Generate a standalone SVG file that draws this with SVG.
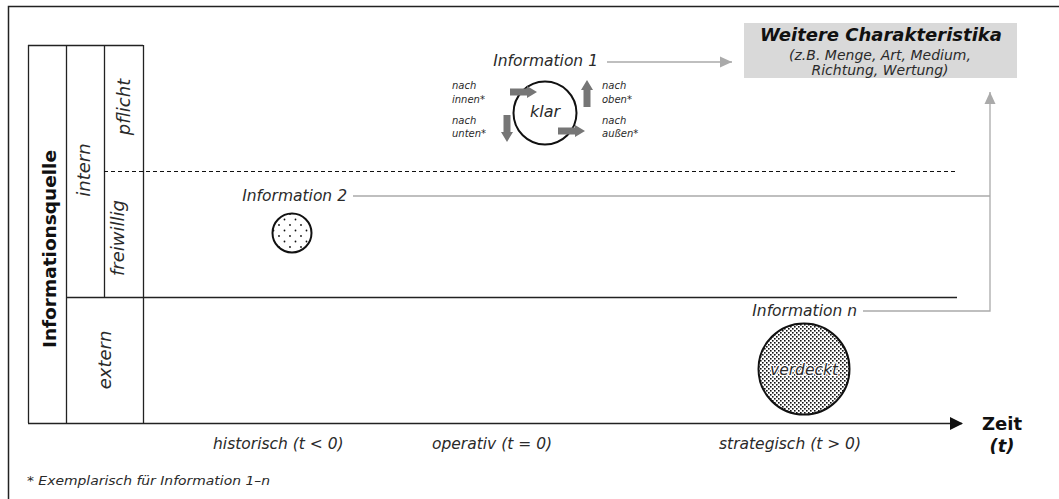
<svg xmlns="http://www.w3.org/2000/svg" width="1059" height="499" viewBox="0 0 1059 499">
<style>
text{font-family:"DejaVu Sans","Verdana",sans-serif;fill:#2a2a2a}
.it{font-style:italic}
.b{font-weight:bold;fill:#111}
.lab{font-size:15.5px;font-style:italic}
.col{font-size:18px;font-style:italic}
.sm{font-size:10px;font-style:italic}
.ln{stroke:#222;stroke-width:1.3;fill:none}
.gl{stroke:#aaaaaa;stroke-width:1.3;fill:none}
.blk{fill:#767676}
.halo{stroke:#fff;stroke-width:2.5;paint-order:stroke;stroke-linejoin:round}
</style>
<defs>
<pattern id="sparse" width="11" height="11" patternUnits="userSpaceOnUse" x="2" y="3">
<circle cx="2" cy="2" r="0.9" fill="#111"/><circle cx="7.5" cy="7.5" r="0.9" fill="#111"/>
</pattern>
<pattern id="dense" width="4" height="4" patternUnits="userSpaceOnUse">
<rect x="0" y="0" width="1.6" height="1.6" fill="#111"/><rect x="2" y="2" width="1.6" height="1.6" fill="#111"/>
</pattern>
<path id="barrow" d="M0,-3.5 H17 V-6 L27,0 L17,6 V3.5 H0 Z"/>
<marker id="ga" markerUnits="userSpaceOnUse" markerWidth="14" markerHeight="14" refX="12" refY="6" orient="auto">
<path d="M0,0.5 L12,6 L0,11.5 Z" fill="#aaaaaa"/>
</marker>
<marker id="ka" markerUnits="userSpaceOnUse" markerWidth="14" markerHeight="14" refX="12" refY="6.5" orient="auto">
<path d="M0,0 L13,6.5 L0,13 Z" fill="#111"/>
</marker>
</defs>
<rect x="8.5" y="6.5" width="1100" height="600" fill="#fff" stroke="#222" stroke-width="1.5"/>

<g id="table">
<path class="ln" d="M28,45.5 H143 M28.5,45 V423 M66.5,45 V423 M104.5,45 V297 M143.5,45 V423 M66,297.5 H957"/>
<path d="M104,171.5 H957" stroke="#111" stroke-width="1.2" stroke-dasharray="4,3"/>
<text class="b" font-size="18" text-anchor="middle" transform="translate(56,249) rotate(-90)" textLength="198" lengthAdjust="spacingAndGlyphs">Informationsquelle</text>
<text class="col" text-anchor="middle" transform="translate(89.5,170) rotate(-90)">intern</text>
<text class="col" text-anchor="middle" transform="translate(130,107) rotate(-90)">pflicht</text>
<text class="col" text-anchor="middle" transform="translate(124,238) rotate(-90)">freiwillig</text>
<text class="col" text-anchor="middle" transform="translate(111,360) rotate(-90)">extern</text>
</g>

<g id="connectors">
<path class="ln" d="M28,423.5 H962" marker-end="url(#ka)"/>
<path class="gl" d="M607,62 H732" marker-end="url(#ga)"/>
<path class="gl" d="M353,196 H990"/>
<path class="gl" d="M863,311 H990 V92" marker-end="url(#ga)"/>
</g>

<g id="axis-labels">
<text class="b" font-size="18" text-anchor="middle" x="1002" y="430">Zeit</text>
<text class="b it" font-size="18" text-anchor="middle" x="1002" y="452">(t)</text>
<text class="lab" x="213" y="449">historisch (t &lt; 0)</text>
<text class="lab" x="432" y="449">operativ (t = 0)</text>
<text class="lab" x="719" y="449">strategisch (t &gt; 0)</text>
</g>

<g id="characteristics">
<rect x="744" y="23" width="273" height="55" fill="#d9d9d9"/>
<text class="b it" font-size="18" text-anchor="middle" x="881" y="41">Weitere Charakteristika</text>
<text class="it" font-size="14" text-anchor="middle" x="880" y="60">(z.B. Menge, Art, Medium,</text>
<text class="it" font-size="14" text-anchor="middle" x="880" y="75">Richtung, Wertung)</text>
</g>

<g id="info1">
<text class="lab" text-anchor="end" x="598" y="66">Information 1</text>
<circle cx="545" cy="113" r="31.5" fill="#fff" stroke="#111" stroke-width="2"/>
<text class="it" font-size="16" text-anchor="middle" x="545" y="117">klar</text>
<use href="#barrow" class="blk" transform="translate(510,92)"/>
<use href="#barrow" class="blk" transform="translate(558,131)"/>
<use href="#barrow" class="blk" transform="translate(507,115) rotate(90)"/>
<use href="#barrow" class="blk" transform="translate(587,107) rotate(-90)"/>
<text class="sm" x="452" y="89">nach</text>
<text class="sm" x="452" y="103">innen*</text>
<text class="sm" x="452" y="124">nach</text>
<text class="sm" x="452" y="137">unten*</text>
<text class="sm" x="602" y="89">nach</text>
<text class="sm" x="602" y="103">oben*</text>
<text class="sm" x="602" y="124">nach</text>
<text class="sm" x="602" y="137">außen*</text>
</g>

<g id="info2">
<text class="lab" text-anchor="end" x="347" y="201">Information 2</text>
<circle cx="292" cy="233" r="19.5" fill="url(#sparse)" stroke="#111" stroke-width="2"/>
</g>

<g id="infon">
<text class="lab" text-anchor="end" x="857" y="316">Information n</text>
<circle cx="804" cy="369" r="45.5" fill="url(#dense)" stroke="#111" stroke-width="2"/>
<text class="it halo" font-size="15.5" text-anchor="middle" x="804" y="375">verdeckt</text>
</g>

<g id="footnote">
<text class="it" font-size="12" x="27" y="485" textLength="243" lengthAdjust="spacingAndGlyphs">* Exemplarisch für Information 1–n</text>
</g>
</svg>
